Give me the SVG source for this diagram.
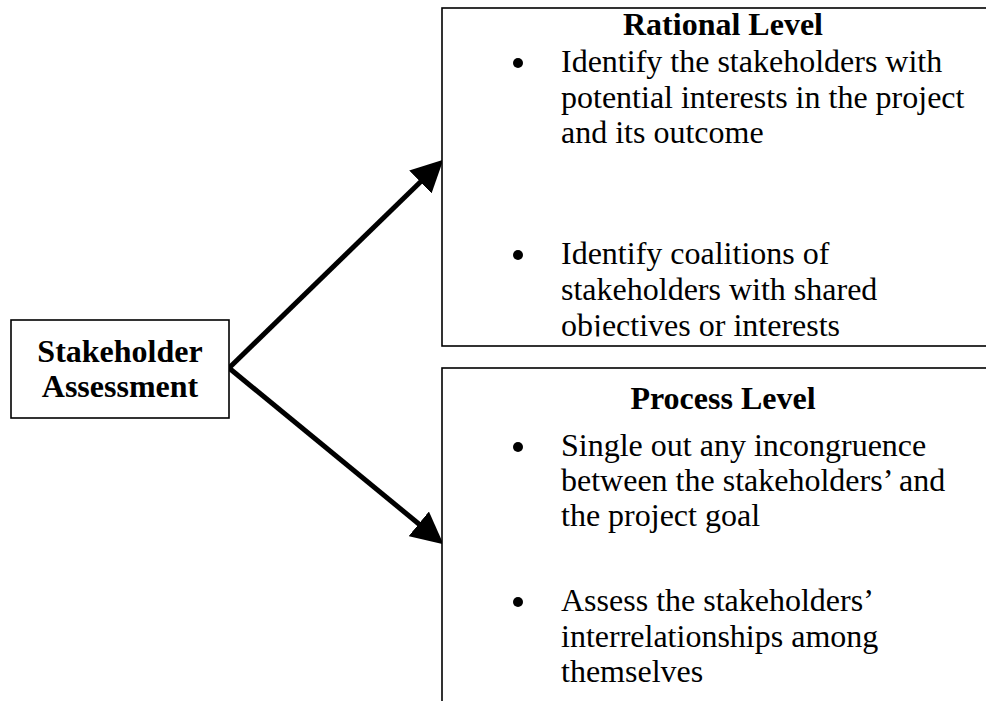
<svg xmlns="http://www.w3.org/2000/svg" width="986" height="701" viewBox="0 0 986 701">
<style>
.box{fill:#fff;stroke:#000;stroke-width:1.6}
.t{font-family:"Liberation Serif","Times New Roman",serif;font-size:32px;fill:#000}
.b{font-weight:bold}
.c{text-anchor:middle}
.conn{stroke:#000;stroke-width:5;fill:none}
</style>
<defs>
<marker id="ah" markerUnits="userSpaceOnUse" markerWidth="32" markerHeight="32" viewBox="0 0 30 30" refX="2" refY="15" orient="auto">
<path d="M0,0 L30,15 L0,30 z" fill="#000"/>
</marker>
<clipPath id="clipTop"><rect x="442" y="8" width="560" height="328.5"/></clipPath>
</defs>
<rect width="986" height="701" fill="#fff"/>
<g id="connectors">
<line class="conn" x1="229" y1="368" x2="421.9" y2="180.5" marker-end="url(#ah)"/>
<line class="conn" x1="229" y1="368" x2="420.4" y2="525.2" marker-end="url(#ah)"/>
</g>
<g id="stakeholder-assessment">
<rect class="box" x="11" y="320" width="218" height="98"/>
<text class="t b c" x="120" y="362">Stakeholder</text>
<text class="t b c" x="120" y="397">Assessment</text>
</g>
<g id="rational-level">
<rect class="box" x="442" y="8" width="560" height="338"/>
<text class="t b c" x="723" y="35">Rational Level</text>
<circle cx="518" cy="63" r="5"/>
<text class="t" x="561" y="72">Identify the stakeholders with</text>
<text class="t" x="561" y="108">potential interests in the project</text>
<text class="t" x="561" y="143">and its outcome</text>
<circle cx="518" cy="255" r="5"/>
<text class="t" x="561" y="264">Identify coalitions of</text>
<text class="t" x="561" y="300">stakeholders with shared</text>
<text class="t" x="561" y="336" clip-path="url(#clipTop)">objectives or interests</text>
</g>
<g id="process-level">
<rect class="box" x="442" y="368" width="560" height="360"/>
<text class="t b c" x="723" y="409">Process Level</text>
<circle cx="518" cy="447" r="5"/>
<text class="t" x="561" y="456">Single out any incongruence</text>
<text class="t" x="561" y="491">between the stakeholders’ and</text>
<text class="t" x="561" y="526">the project goal</text>
<circle cx="518" cy="602" r="5"/>
<text class="t" x="561" y="611">Assess the stakeholders’</text>
<text class="t" x="561" y="647">interrelationships among</text>
<text class="t" x="561" y="682">themselves</text>
</g>
</svg>
